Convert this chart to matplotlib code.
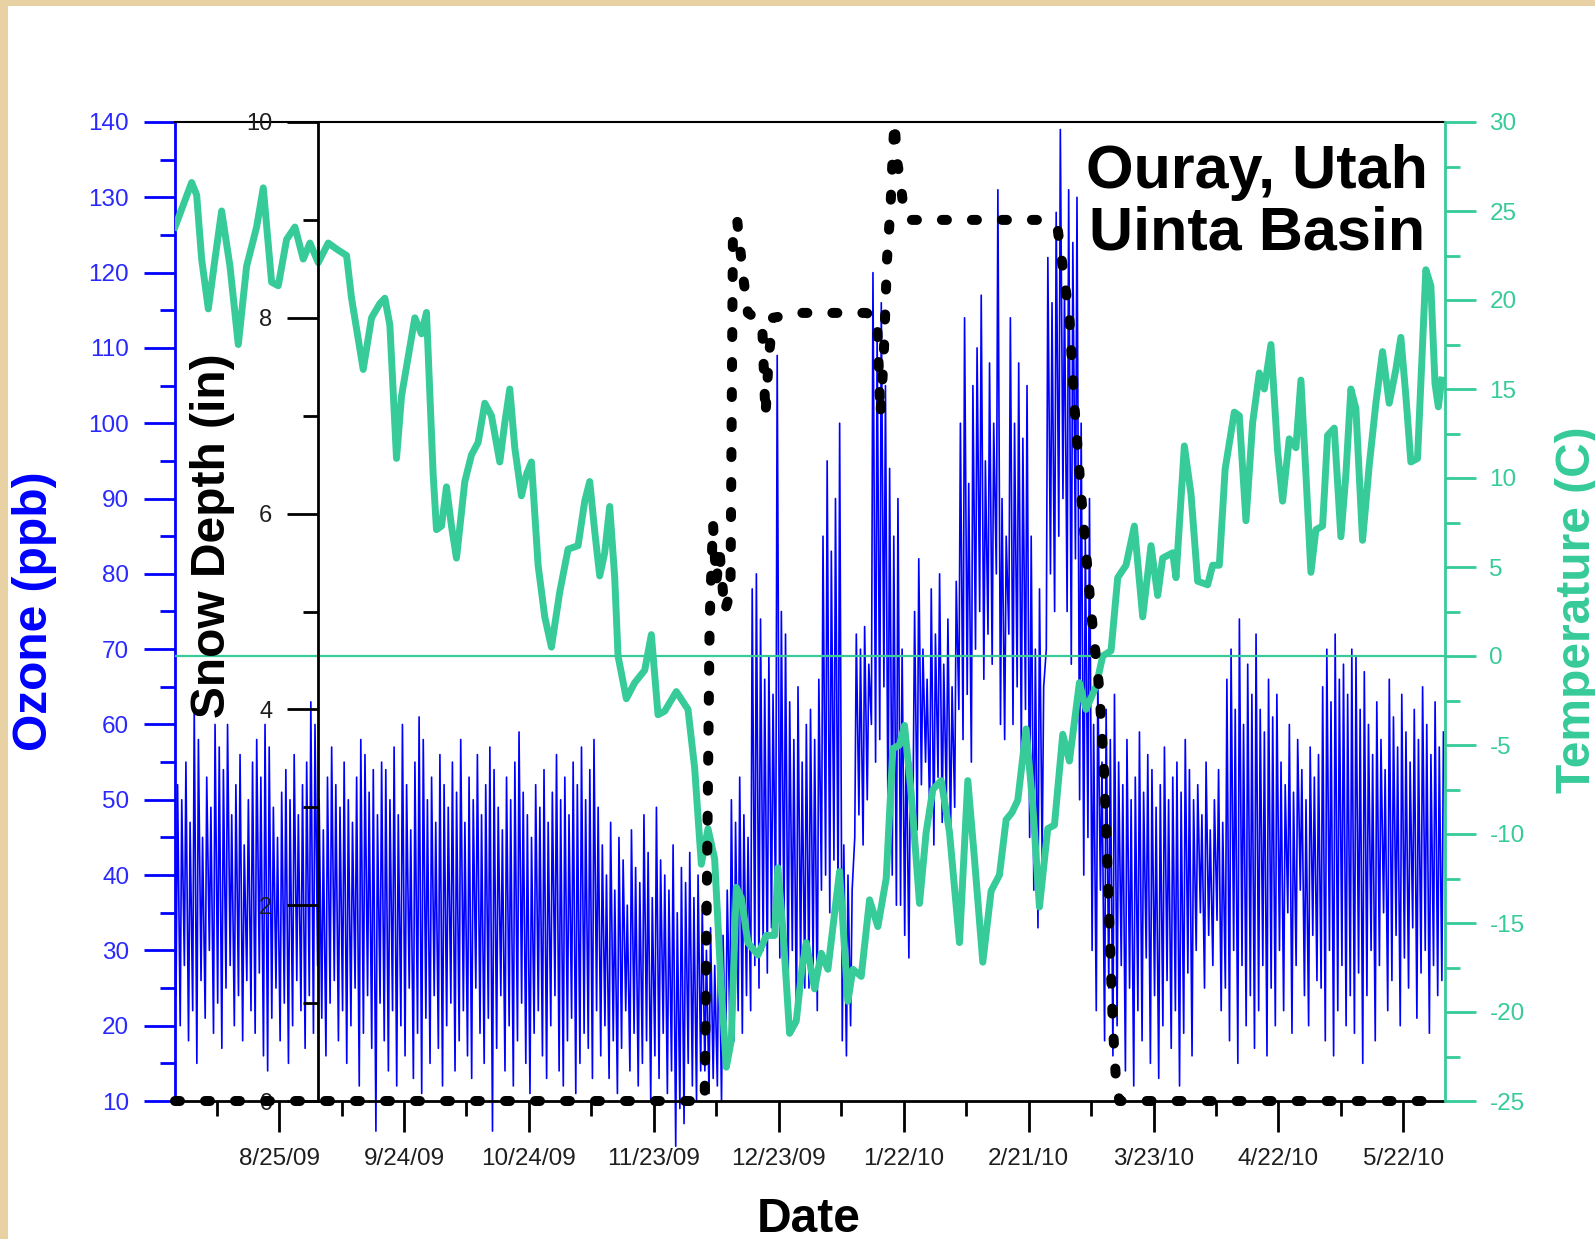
import matplotlib
matplotlib.use("Agg")
import matplotlib.pyplot as plt
import matplotlib.dates as mdates
from matplotlib.ticker import MultipleLocator, FixedLocator, NullFormatter
from matplotlib.patches import Rectangle
from datetime import datetime, timedelta

plt.rcParams['font.family'] = ['Liberation Sans', 'DejaVu Sans']
plt.rcParams['axes.unicode_minus'] = False

# primer dia de la serie (7/31/09), los dias de abajo cuentan desde aqui
start = datetime(2009, 7, 31)

# ozono (ppb): maximo y minimo de cada dia, 305 dias
ozone_high = [
    52, 50, 55, 47, 62, 58, 45, 53, 49, 60, 57, 54, 60, 48, 52, 56, 44, 50, 55, 58,
    53, 60, 57, 49, 45, 51, 54, 50, 56, 48, 52, 55, 63, 60, 50, 46, 53, 57, 52, 49,
    55, 50, 47, 53, 58, 56, 51, 54, 48, 55,
    54, 50, 57, 48, 60, 52, 46, 55, 61, 58, 50, 53, 47, 56, 52, 49, 55, 51, 58, 47,
    53, 50, 56, 48, 52, 57, 54, 49, 46, 53, 50, 55, 59, 51, 48, 45, 52, 49, 54, 47,
    51, 56, 50, 53, 48, 55, 52, 57, 50, 54, 58, 49,
    44, 40, 47, 38, 45, 42, 36, 46, 41, 39, 48, 43, 37, 49, 42, 40, 38, 44, 35, 41,
    39, 43, 37, 40, 36,
    30, 33, 28, 35, 32, 38, 50, 47, 53, 48, 45, 78, 80, 74, 66, 69, 64, 109, 75, 72,
    63, 58, 65, 55, 60,
    62, 58, 66, 85, 95, 83, 90, 100, 44, 40, 38, 72, 70, 73, 68, 120, 112, 116, 105, 94,
    85, 90, 70, 60, 55, 75, 82, 70, 66, 78, 72, 80, 68, 74, 65, 79, 100, 114, 92, 105,
    110, 117, 95, 108, 100, 131, 90, 85,
    114, 100, 108, 98, 105, 85, 70, 78, 65, 122, 116, 128, 139, 118, 131, 124, 130, 100, 85, 90,
    60, 66, 55, 62, 58, 64, 55, 52, 58, 50, 53, 59, 51, 56, 54, 49, 52, 57, 50, 53,
    55, 51, 58, 54, 50, 52, 48, 55, 46, 50, 54, 47,
    66, 70, 62, 74, 60, 68, 64, 72, 62, 59, 66, 61, 64, 55, 52, 60, 51, 58, 54, 50,
    57, 53, 56, 65, 70, 63, 72, 66, 68, 64, 70, 69, 62, 67, 60, 56, 63, 58, 54, 66,
    61, 57, 64, 59, 55, 62, 58, 65, 60, 56, 63, 57, 59,
]
ozone_low = [
    24, 20, 28, 18, 22, 15, 26, 21, 30, 19, 23, 17, 25, 28, 20, 24, 18, 26, 22, 19,
    27, 16, 14, 21, 25, 18, 23, 15, 20, 26, 22, 17, 24, 19, 28, 21, 16, 23, 26, 18,
    22, 15, 20, 25, 12, 19, 24, 17, 6, 23,
    18, 14, 22, 12, 20, 16, 25, 13, 19, 11, 21, 15, 24, 17, 12, 20, 23, 14, 18, 22,
    16, 13, 25, 19, 15, 21, 6, 17, 24, 14, 20, 12, 18, 23, 15, 11, 19, 22, 16, 13,
    20, 24, 14, 12, 18, 21, 11, 15, 19, 17, 13, 22,
    16, 20, 13, 18, 11, 17, 22, 14, 19, 12, 15, 18, 10, 16, 13, 19, 11, 14, 4, 9,
    7, 15, 12, 10, 14,
    14, 11, 13, 12, 10, 15, 20, 18, 22, 19, 24, 22, 28, 25, 30, 27, 33, 35, 29, 32,
    24, 30, 20, 27, 25,
    25, 28, 22, 38, 40, 35, 42, 36, 18, 16, 20, 45, 48, 44, 50, 60, 55, 58, 65, 45,
    40, 36, 36, 32, 29, 50, 46, 52, 55, 48, 44, 53, 47, 50, 45, 49, 62, 58, 64, 55,
    70, 75, 66, 72, 68, 80, 60, 58,
    72, 60, 65, 56, 62, 45, 38, 33, 42, 70, 80, 75, 85, 90, 75, 68, 82, 50, 40, 45,
    30, 22, 38, 18, 25, 16, 20, 28, 14, 25, 12, 22, 18, 29, 15, 24, 13, 20, 26, 17,
    22, 12, 19, 27, 16, 30, 35, 25, 32, 28, 34, 22,
    25, 18, 30, 15, 28, 20, 24, 17, 22, 28, 16, 25, 20, 30, 22, 35, 19, 28, 38, 24,
    20, 32, 26, 25, 18, 30, 16, 22, 28, 20, 24, 19, 27, 15, 24, 30, 18, 28, 35, 22,
    26, 32, 20, 29, 25, 33, 21, 27, 30, 19, 28, 24, 26,
]

# temperatura (C), dia desde 7/31/09 y valor
temp_day = [
    0, 4.0, 5.2, 6.4, 8.0, 9.6, 11.2, 13.2, 15.2, 17.2, 19.6, 21.2, 23.2, 24.8, 26.8,
    28.8, 30.8, 32.4, 34.4, 36.8, 39.2, 41.2, 42.4, 45.2, 47.2, 49.2, 50.4, 51.6, 53.2,
    54.4, 56.0, 57.6, 59.2, 60.4, 62.0, 62.8, 64.0, 65.2, 66.4, 67.6, 69.6, 71.2, 72.8,
    74.4, 76.0, 78.0, 79.2, 80.4, 81.6, 83.2, 84.4, 85.6, 87.2, 88.8, 90.4, 92.4, 94.4,
    96.8, 98.4, 99.6, 100.8, 102.0, 103.2, 104.4, 105.6, 106.4, 108.4, 110.4, 112.8,
    114.4, 116.0, 117.6, 120.4, 123.2, 124.8, 126.4, 128.0, 129.6, 131.2, 132.4, 133.6,
    134.8, 136.0, 137.6, 140.0, 142.0, 144.0, 144.8, 146.0, 147.6, 149.2, 150.6, 151.6,
    153.6, 155.2, 156.8, 159.6, 161.6, 162.8, 164.8, 166.8, 168.8, 170.8, 172.4, 174.0,
    175.2, 176.8, 178.8, 180.4, 182.0, 184.0, 186.0, 188.4, 190.4, 192.0, 194.0, 196.0,
    198.0, 199.6, 201.0, 202.4, 204.4, 206.0, 207.6, 209.6, 211.2, 213.2, 214.8, 217.2,
    218.8, 221.2, 222.8, 224.8, 226.4, 228.4, 230.4, 232.4, 234.4, 236.0, 237.2, 239.6,
    240.4, 242.4, 244.0, 245.6, 248.0, 249.2, 250.8, 252.2, 254.4, 255.6, 257.2, 258.8,
    260.4, 261.6, 263.2, 264.8, 266.0, 267.6, 269.2, 270.4, 271.6, 272.8, 274.0, 275.6,
    276.8, 278.4, 280.0, 281.2, 282.4, 283.6, 285.2, 286.8, 288.4, 290.0, 291.6, 293.2,
    294.4, 295.6, 296.8, 298.4, 299.6, 300.4, 301.6, 302.6, 303.4, 304.2,
]
temp_val = [
    24.1, 26.6, 25.9, 22.3, 19.5, 22.3, 25.0, 21.9, 17.5, 21.9, 24.1, 26.3, 21.0, 20.8, 23.4,
    24.1, 22.3, 23.2, 22.1, 23.2, 22.8, 22.5, 20.1, 16.1, 19.0, 19.8, 20.1, 18.6, 11.1,
    14.6, 16.8, 19.0, 18.1, 19.3, 10.2, 7.1, 7.3, 9.5, 7.3, 5.5, 9.8, 11.3, 12.0,
    14.2, 13.5, 10.9, 13.1, 15.0, 11.7, 9.0, 10.2, 10.9, 5.1, 2.2, 0.5, 3.6, 6.0,
    6.2, 8.7, 9.8, 7.0, 4.5, 5.8, 8.4, 4.4, 0.0, -2.4, -1.5, -0.8,
    1.2, -3.3, -3.1, -2.0, -3.0, -6.3, -11.7, -9.7, -11.4, -18.7, -23.1, -21.6,
    -13.0, -13.6, -16.1, -16.8, -15.7, -15.7, -11.9, -15.4, -21.2, -20.5, -17.5, -16.1,
    -18.7, -16.7, -17.6, -12.1, -19.4, -17.6, -18.0, -13.7, -15.2, -12.5, -5.2, -5.0,
    -3.9, -7.7, -13.9, -9.9, -7.5, -7.0, -9.9, -16.1, -7.0, -11.4, -17.2, -13.2,
    -12.3, -9.2, -8.8, -8.1, -4.1, -8.4, -14.1, -9.7, -9.5, -4.4, -5.9, -1.5,
    -3.0, -1.7, 0.0, 0.3, 4.4, 5.1, 7.3, 2.2, 6.2, 3.4, 5.5, 5.8,
    4.4, 11.8, 9.1, 4.2, 4.0, 5.1, 5.1, 10.5, 13.7, 13.5, 7.6, 13.1,
    15.9, 15.0, 17.5, 11.5, 8.7, 12.2, 11.7, 15.5, 10.2, 4.7, 7.1, 7.3,
    12.4, 12.8, 6.7, 10.2, 15.0, 13.9, 6.5, 10.7, 14.2, 17.1, 14.2, 16.1,
    17.9, 14.6, 10.9, 11.1, 17.5, 21.7, 20.8, 15.3, 14.0, 15.5,
]

# nieve (in)
snow_day = [0, 127.2, 128.4, 129.2, 130.0, 130.8, 132.0, 133.4, 134.0, 135.0, 136.5,
            137.6, 141.0, 141.8, 142.6, 143.6, 150.0, 166.0, 168.6, 169.4, 170.2, 171.0,
            171.8, 172.4, 172.8, 173.4, 174.2, 175.0, 176.5, 208.4, 212.0, 214.8, 216.0,
            217.6, 220.0, 222.0, 223.2, 224.4, 225.2, 226.0, 226.8, 304.5]
snow_depth = [0, 0, 4.9, 5.9, 5.3, 5.6, 5.0, 5.2, 8.9, 9.0, 8.4,
              8.05, 7.95, 7.0, 7.6, 8.0, 8.05, 8.05, 8.0, 7.0, 7.6, 8.6,
              9.1, 9.7, 10.0, 9.6, 9.4, 9.1, 9.0, 9.0, 8.9, 8.0, 7.1,
              6.2, 5.0, 4.2, 3.3, 1.8, 0.8, 0.2, 0, 0]

tick_dates = ["2009-08-25", "2009-09-24", "2009-10-24", "2009-11-23", "2009-12-23",
              "2010-01-22", "2010-02-21", "2010-03-23", "2010-04-22", "2010-05-22"]
tick_labels = ["8/25/09", "9/24/09", "10/24/09", "11/23/09", "12/23/09",
               "1/22/10", "2/21/10", "3/23/10", "4/22/10", "5/22/10"]

W, H = 1595, 1239
BLUE = '#0000ff'
GREEN = '#36cb98'

fig = plt.figure(figsize=(W / 100, H / 100), dpi=100)
fig.patch.set_facecolor('#e8d2a4')
# el fondo blanco va detras de todo
fig.patches.append(Rectangle((8 / W, 0), 1 - 8 / W, 1 - 6 / H, transform=fig.transFigure,
                             facecolor='white', edgecolor='none', zorder=-10))

ax = fig.add_axes([175 / W, 1 - 1101 / H, 1270 / W, 979 / H])
ax.patch.set_alpha(0)

# ozono: bajo en la madrugada, alto en la tarde
oz_t, oz_v = [], []
for i in range(len(ozone_high)):
    oz_t.append(start + timedelta(days=i + 0.25))
    oz_v.append(ozone_low[i])
    oz_t.append(start + timedelta(days=i + 0.62))
    oz_v.append(ozone_high[i])
ax.plot(oz_t, oz_v, color=BLUE, lw=1.2, clip_on=False)

ax.set_xlim(mdates.date2num(datetime(2009, 7, 31)), mdates.date2num(datetime(2010, 6, 1)))
ax.set_ylim(10, 140)
ax.yaxis.set_major_locator(MultipleLocator(10))
ax.yaxis.set_minor_locator(MultipleLocator(5))
ax.tick_params(axis='y', which='major', direction='out', length=22, width=2,
               color=BLUE, labelcolor='#2828ff', labelsize=17.5, pad=11)
ax.tick_params(axis='y', which='minor', direction='out', length=11, width=2, color=BLUE)

tick_nums = [mdates.date2num(datetime.strptime(d, "%Y-%m-%d")) for d in tick_dates]
ax.xaxis.set_major_locator(FixedLocator(tick_nums))
ax.set_xticklabels(tick_labels)
ax.xaxis.set_minor_locator(FixedLocator([t - 15 for t in tick_nums] + [tick_nums[-1] + 15]))
ax.xaxis.set_minor_formatter(NullFormatter())
ax.tick_params(axis='x', which='major', direction='out', length=22, width=2,
               color='black', labelcolor='#1e1e1e', labelsize=17.5, pad=12)
ax.tick_params(axis='x', which='minor', direction='out', length=11, width=2, color='black')

ax.spines['left'].set_color(BLUE)
ax.spines['left'].set_linewidth(2)
ax.spines['bottom'].set_linewidth(2)
ax.spines['top'].set_linewidth(1.5)
ax.spines['right'].set_visible(False)

# temperatura
ax_t = ax.twinx()
ax_t.plot([start + timedelta(days=d) for d in temp_day], temp_val, color=GREEN, lw=5,
          solid_joinstyle='round')
ax_t.axhline(0, color=GREEN, lw=1.6)
ax_t.set_ylim(-25, 30)
ax_t.yaxis.set_major_locator(MultipleLocator(5))
ax_t.yaxis.set_minor_locator(MultipleLocator(2.5))
ax_t.tick_params(axis='y', which='major', direction='out', length=22, width=2,
                 color=GREEN, labelcolor=GREEN, labelsize=17.5, pad=10)
ax_t.tick_params(axis='y', which='minor', direction='out', length=11, width=2, color=GREEN)
for s in ['left', 'top', 'bottom']:
    ax_t.spines[s].set_visible(False)
ax_t.spines['right'].set_color(GREEN)
ax_t.spines['right'].set_linewidth(2)

# profundidad de nieve, eje metido adentro
ax_s = ax.twinx()
ax_s.plot([start + timedelta(days=d) for d in snow_day], snow_depth, color='black', lw=7.2,
          linestyle=(0, (0.5, 2.5)), dash_capstyle='round', clip_on=False)
ax_s.set_ylim(0, 10)
for s in ['right', 'top', 'bottom']:
    ax_s.spines[s].set_visible(False)
ax_s.spines['left'].set_visible(True)
ax_s.spines['left'].set_position(('axes', 143 / 1270))
ax_s.spines['left'].set_linewidth(2)
ax_s.yaxis.tick_left()
ax_s.yaxis.set_major_locator(MultipleLocator(2))
ax_s.yaxis.set_minor_locator(MultipleLocator(1))
ax_s.tick_params(axis='y', which='major', direction='out', length=22, width=2,
                 color='black', labelcolor='#1e1e1e', labelsize=17, pad=11)
ax_s.tick_params(axis='y', which='minor', direction='out', length=11, width=2, color='black')

# textos
fig.text(35 / W, 1 - 611 / H, 'Ozone (ppb)', rotation=90, color=BLUE, fontsize=34.5,
         fontweight='bold', ha='center', va='center')
fig.text(212 / W, 1 - 536 / H, 'Snow Depth (in)', rotation=90, color='black', fontsize=34.5,
         fontweight='bold', ha='center', va='center')
fig.text(1577 / W, 1 - 610 / H, 'Temperature (C)', rotation=90, color=GREEN, fontsize=34.5,
         fontweight='bold', ha='center', va='center')
fig.text(809 / W, 1 - 1232 / H, 'Date', color='black', fontsize=34.5, fontweight='bold',
         ha='center', va='baseline')
fig.text(1428 / W, 1 - 188 / H, 'Ouray, Utah', color='black', fontsize=44,
         fontweight='bold', ha='right', va='baseline')
fig.text(1425 / W, 1 - 250 / H, 'Uinta Basin', color='black', fontsize=44,
         fontweight='bold', ha='right', va='baseline')

fig.savefig('out.png', dpi=100, facecolor=fig.get_facecolor())
